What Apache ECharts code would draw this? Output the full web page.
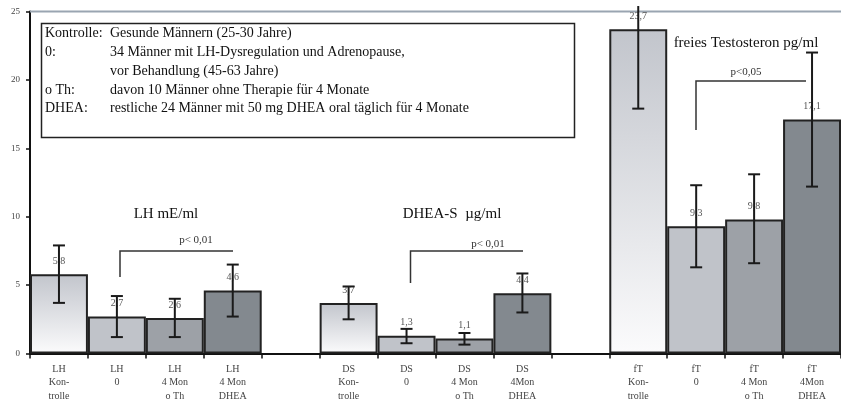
<!DOCTYPE html>
<html>
<head>
<meta charset="utf-8">
<script src="https://cdn.jsdelivr.net/npm/echarts@6/dist/echarts.min.js"></script>
<style>
html,body{margin:0;padding:0;background:#fff;}
#chart{width:841px;height:403px;}
</style>
</head>
<body>
<div id="chart"></div>
<script>
// ---- data ----
var categories = [
  'LH\nKon-\ntrolle', 'LH\n0', 'LH\n4 Mon\no Th', 'LH\n4 Mon\nDHEA', '',
  'DS\nKon-\ntrolle', 'DS\n0', 'DS\n4 Mon\no Th', 'DS\n4Mon\nDHEA', '',
  'fT\nKon-\ntrolle', 'fT\n0', 'fT\n4 Mon\no Th', 'fT\n4Mon\nDHEA'
];
var groupKinds = ['K','0','T','D',null,'K','0','T','D',null,'K','0','T','D'];
var values   = [5.8, 2.7, 2.6, 4.6, null, 3.7, 1.3, 1.1, 4.4, null, 23.7, 9.3, 9.8, 17.1];
var errLow   = [3.7, 1.2, 1.2, 2.7, null, 2.5, 0.75, 0.65, 3.0, null, 17.9, 6.3, 6.6, 12.2];
var errHigh  = [7.9, 4.2, 4.0, 6.5, null, 4.9, 1.8, 1.5, 5.85, null, 25.4, 12.3, 13.1, 22.0];
var yTicks = [0, 5, 10, 15, 20, 25];

var legendLabels = ['Kontrolle:', '0:', '', 'o Th:', 'DHEA:'];
var legendTexts = [
  'Gesunde Männern (25-30 Jahre)',
  '34 Männer mit LH-Dysregulation und Adrenopause,',
  'vor Behandlung (45-63 Jahre)',
  'davon 10 Männer ohne Therapie für 4 Monate',
  'restliche 24 Männer mit 50 mg DHEA oral täglich für 4 Monate'
];
var groupTitles = ['LH mE/ml', 'DHEA-S  µg/ml', 'freies Testosteron pg/ml'];
var pTexts = ['p< 0,01', 'p< 0,01', 'p<0,05'];

// ---- styles ----
var SERIF = '"Liberation Serif","DejaVu Serif",serif';
var kontrolleFill = new echarts.graphic.LinearGradient(0, 0, 0, 1, [
  {offset: 0, color: '#c2c5cc'}, {offset: 1, color: '#fbfbfc'}
]);
var fills = {K: kontrolleFill, '0': '#c0c3c9', T: '#9da1a7', D: '#83898f'};

var barData = values.map(function (v, i) {
  if (v == null) return {value: null};
  return {value: v, itemStyle: {color: fills[groupKinds[i]]}};
});
var errData = [];
values.forEach(function (v, i) {
  if (v != null) errData.push([i, errLow[i], errHigh[i]]);
});

var YMAX = 25;

var chart = echarts.init(document.getElementById('chart'), null, {renderer: 'canvas'});

var graphics = [];
// top border line
graphics.push({type: 'line', shape: {x1: 30, y1: 11.5, x2: 841, y2: 11.5},
  style: {stroke: '#9aa5b1', lineWidth: 2}, z: 1});
// legend box
graphics.push({type: 'rect', shape: {x: 41.5, y: 23.5, width: 533, height: 114},
  style: {fill: '#fff', stroke: '#222', lineWidth: 1.5}, z: 10});
legendLabels.forEach(function (t, i) {
  var y = 33.5 + i * 18.8;
  graphics.push({type: 'text', x: 45, y: y, z: 11,
    style: {text: t, font: '14px ' + SERIF, fill: '#111', verticalAlign: 'middle'}});
  graphics.push({type: 'text', x: 110, y: y, z: 11,
    style: {text: legendTexts[i], font: '14px ' + SERIF, fill: '#111', verticalAlign: 'middle'}});
});
// group titles
[[166, 214], [452, 214], [746, 43]].forEach(function (p, i) {
  graphics.push({type: 'text', x: p[0], y: p[1], z: 11,
    style: {text: groupTitles[i], font: '15px ' + SERIF, fill: '#111',
      align: 'center', verticalAlign: 'middle'}});
});
// brackets
var brackets = [
  {x1: 120, x2: 233, yTop: 251, yBot: 277, tx: 196, ty: 240},
  {x1: 410.5, x2: 523, yTop: 251, yBot: 283, tx: 488, ty: 244},
  {x1: 696, x2: 806, yTop: 81, yBot: 130, tx: 746, ty: 72}
];
brackets.forEach(function (b, i) {
  graphics.push({type: 'polyline', z: 11,
    shape: {points: [[b.x1, b.yBot], [b.x1, b.yTop], [b.x2, b.yTop]]},
    style: {stroke: '#333', lineWidth: 1.5, fill: null}});
  graphics.push({type: 'text', x: b.tx, y: b.ty, z: 11,
    style: {text: pTexts[i], font: '11px ' + SERIF, fill: '#333',
      align: 'center', verticalAlign: 'middle'}});
});

chart.setOption({
  animation: false,
  backgroundColor: '#fff',
  grid: {left: 30, right: -4, top: 11.5, bottom: 48, containLabel: false},
  xAxis: {
    type: 'category',
    data: categories,
    boundaryGap: true,
    axisLine: {lineStyle: {color: '#111', width: 2}},
    axisTick: {show: true, interval: 0, length: 5, lineStyle: {color: '#111', width: 1.5}},
    axisLabel: {interval: 0, fontFamily: SERIF, fontSize: 10, color: '#444',
      lineHeight: 13.5, margin: 9},
    splitLine: {show: false}
  },
  yAxis: {
    type: 'value',
    min: 0, max: YMAX, interval: 5,
    axisLine: {show: true, lineStyle: {color: '#111', width: 2}},
    axisTick: {show: true, length: 4, lineStyle: {color: '#111', width: 1.5}},
    axisLabel: {fontFamily: SERIF, fontSize: 9, color: '#444', margin: 10,
      formatter: function (v) { return yTicks.indexOf(v) >= 0 ? String(v) : ''; }},
    splitLine: {show: false}
  },
  series: [
    {
      type: 'bar',
      data: barData,
      barWidth: '100%',
      barGap: '0%',
      barCategoryGap: '0%',
      itemStyle: {borderColor: '#222', borderWidth: 2},
      label: {
        show: true, position: 'top', distance: 8,
        fontFamily: SERIF, fontSize: 10, color: '#555',
        formatter: function (p) { return p.value == null ? '' : String(p.value).replace('.', ','); }
      },
      z: 2
    },
    {
      type: 'custom',
      data: errData,
      clip: false,
      z: 5,
      renderItem: function (params, api) {
        var x = api.value(0);
        var lo = api.coord([x, api.value(1)]);
        var hiVal = api.value(2);
        var hi = api.coord([x, hiVal]);
        var capW = 6;
        var children = [
          {type: 'line', shape: {x1: lo[0], y1: lo[1], x2: hi[0], y2: hi[1]},
            style: {stroke: '#1a1a1a', lineWidth: 2}},
          {type: 'line', shape: {x1: lo[0] - capW, y1: lo[1], x2: lo[0] + capW, y2: lo[1]},
            style: {stroke: '#1a1a1a', lineWidth: 2}}
        ];
        if (hiVal <= YMAX) {
          children.push({type: 'line', shape: {x1: hi[0] - capW, y1: hi[1], x2: hi[0] + capW, y2: hi[1]},
            style: {stroke: '#1a1a1a', lineWidth: 2}});
        }
        return {type: 'group', children: children};
      }
    }
  ],
  graphic: graphics
});
</script>
</body>
</html>
